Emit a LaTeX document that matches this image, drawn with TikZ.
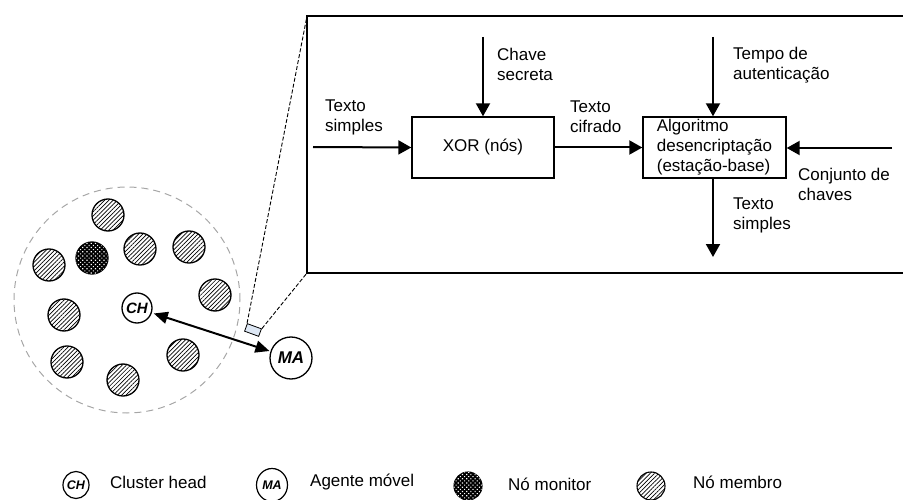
\documentclass[tikz,border=0pt]{standalone}
\usepackage{fontspec}
\setmainfont{Liberation Sans}
\usetikzlibrary{arrows.meta,patterns.meta,shapes.geometric}
\definecolor{pktblue}{RGB}{221,231,244}

\begin{document}
\begin{tikzpicture}[x=1pt,y=-1pt,
  txt/.style={font=\fontsize{17}{20}\selectfont, inner sep=0pt, align=left, anchor=west},
  blk/.style={draw, line width=1.4pt, minimum width=142pt, minimum height=61pt,
              inner sep=0pt, font=\fontsize{17}{20}\selectfont, align=left},
  flow/.style={line width=2pt, -{Triangle[length=13pt,width=14pt]}},
  member/.style={circle, draw, line width=1.3pt, minimum size=32pt, inner sep=0pt,
                 pattern={Lines[angle=45,distance=3pt,line width=0.7pt]}},
  monitor/.style={circle, draw, line width=1.3pt, minimum size=32pt, inner sep=0pt,
                  fill=black, postaction={pattern={Dots[angle=45,distance=3pt,radius=0.8pt]},
                  pattern color=white}},
  agent/.style={circle, draw, line width=1.3pt, fill=white, inner sep=0pt,
                font=\bfseries\itshape},
  legagent/.style={ellipse, draw, line width=1.2pt, inner sep=0pt,
                   font=\fontsize{12.5}{12.5}\selectfont\bfseries\itshape},
  legdot/.style={circle, draw, line width=1.1pt, minimum size=28pt, inner sep=0pt},
]
\useasboundingbox (0,0) rectangle (903,500);

% ---------- cluster ----------
\node[circle, draw=gray!70, line width=1pt, dash pattern=on 7pt off 5pt,
      minimum size=226pt, inner sep=0pt] (cluster) at (127,300) {};

\node[member] (m1) at (108,215) {};
\node[member] (m2) at (49,265) {};
\node[monitor] (mon) at (92,258) {};
\node[member] (m4) at (140,249) {};
\node[member] (m5) at (189,247) {};
\node[member] (m6) at (215,295) {};
\node[member] (m7) at (64,315) {};
\node[member] (m8) at (67,362) {};
\node[member] (m9) at (123,380) {};
\node[member] (m10) at (183,355) {};

\node[agent, minimum size=30pt, font=\fontsize{15}{15}\selectfont\bfseries\itshape] (ch) at (137,308) {CH};
\node[agent, minimum size=42pt, font=\fontsize{17}{17}\selectfont\bfseries\itshape] (ma) at (291,358) {MA};

\draw[line width=2pt, {Triangle[length=14pt,width=12pt]}-{Triangle[length=14pt,width=12pt]},
      shorten <=2pt, shorten >=1pt] (ch) -- (ma);

% ---------- zoomed link ----------
\node[draw, line width=0.8pt, fill=pktblue, minimum width=15pt, minimum height=8pt,
      inner sep=0pt, rotate=-20] (pkt) at (253,330) {};

\coordinate (btl) at (307,16);
\coordinate (bbl) at (307,273);
\draw[line width=1.5pt] (903,16) -- (btl) -- (bbl) -- (903,273);

\draw[line width=0.9pt, dash pattern=on 4pt off 2pt] (pkt.north west) -- (btl);
\draw[line width=0.9pt, dash pattern=on 4pt off 2pt] (pkt.north east) -- (bbl);

% ---------- encryption chain ----------
\node[blk] (xor) at (483,147.5) {XOR (nós)};
\node[blk, minimum width=143pt] (algo) at (714.5,147.5) {Algoritmo\\desencriptação\\(estação-base)};

\coordinate (inp) at (313,147);
\coordinate (keyin) at (483,37);
\coordinate (timein) at (713,37);
\coordinate (setin) at (892,148);
\coordinate (outp) at (713,257);

\draw[flow] (inp) -- (xor.west);
\draw[flow] (keyin) -- (xor.north);
\draw[flow] (xor.east) -- (algo.west);
\draw[flow] (timein) -- (timein |- algo.north);
\draw[flow] (setin) -- (setin -| algo.east);
\draw[flow] (outp |- algo.south) -- (outp);

\node[txt] (l1) at (325,117) {Texto\\simples};
\node[txt] (l2) at (497,64) {Chave\\secreta};
\node[txt] (l3) at (570,117) {Texto\\cifrado};
\node[txt] (l4) at (733,65) {Tempo de\\autenticação};
\node[txt] (l5) at (798,184) {Conjunto de\\chaves};
\node[txt] (l6) at (733,215) {Texto\\simples};

% ---------- legend ----------
\node[legagent, minimum width=26pt, minimum height=27pt] (kch) at (76,485) {CH};
\node[txt] (tch) at (110,482) {Cluster head};
\node[legagent, minimum width=31pt, minimum height=33pt] (kma) at (272,485) {MA};
\node[txt] (tma) at (310,482) {Agente móvel};
\node[legdot, fill=black, postaction={pattern={Dots[angle=45,distance=3pt,radius=0.8pt]},
      pattern color=white}] (kmon) at (468,486) {};
\node[txt] (tmon) at (508,484) {Nó monitor};
\node[legdot, pattern={Lines[angle=45,distance=3pt,line width=0.7pt]}] (kmem) at (651,486) {};
\node[txt] (tmem) at (693,482) {Nó membro};
\end{tikzpicture}
\end{document}
